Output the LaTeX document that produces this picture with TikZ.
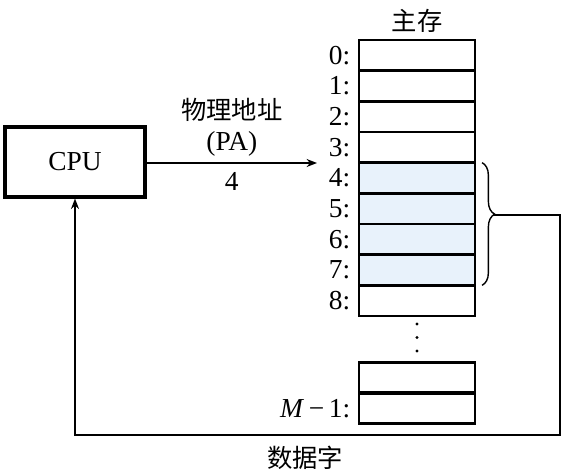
\documentclass[tikz,border=0pt]{standalone}
\usepackage{fontspec}
\setmainfont{Liberation Serif}
\newfontfamily\cjk{Noto Sans CJK SC}
\usepackage{xcolor}
\definecolor{cellblue}{HTML}{E8F2FB}
\usetikzlibrary{arrows.meta, positioning, decorations.pathreplacing, calc}

\begin{document}
\begin{tikzpicture}[
    x=0.025cm, y=-0.025cm,
    every node/.style={font=\fontsize{19.5}{22}\selectfont},
    cpubox/.style={draw, line width=2.2pt, minimum width=3.5cm, minimum height=1.75cm},
    cell/.style={draw, line width=2pt, minimum width=2.9cm, minimum height=0.767cm, inner sep=0pt, outer sep=0pt},
    hicell/.style={cell, fill=cellblue},
    addr/.style={inner sep=0pt},
    cjklabel/.style={font=\cjk\fontsize{18}{21}\selectfont},
    arr/.style={-{Stealth[length=2.6mm, width=2mm]}, line width=0.9pt},
    retline/.style={-{Stealth[length=2.6mm, width=2mm]}, line width=1.3pt},
    membrace/.style={decorate, decoration={brace, amplitude=9pt, aspect=0.42}, line width=1pt},
]
\useasboundingbox (0,0) rectangle (564,475);

% ---- CPU ----
\node[cpubox] (cpu) at (75,162) {CPU};

% ---- main memory ----
\foreach \i in {0,1,2,3,8}
  \node[cell] (m\i) at (417,{55.3+30.67*\i}) {};
\foreach \i in {4,...,7}
  \node[hicell] (m\i) at (417,{55.3+30.67*\i}) {};
\foreach \i in {0,...,8}
  \node[addr, left=6pt of m\i.west] {\i:};

\node[cjklabel, above=2pt of m0.north] (mem) {主存};

% gap in the cells
\foreach \y in {324,337.5,351}
  \fill (417,\y) circle (1.6);
\node[cell] (mA) at (417,377.5) {};
\node[cell] (mB) at (417,408.5) {};
\node[addr, left=6pt of mB.west] {\textit{M}\,−\,1:};

% ---- physical address ----
\coordinate (paend) at (317,163);
\draw[arr] (cpu.east |- paend) -- node[above=1pt] (pa) {(PA)} node[below=3pt] (four) {4} (paend);
\node[cjklabel, above=0pt of pa] (paname) {物理地址};

% ---- data word back to CPU ----
\draw[membrace] ([xshift=5]m4.north east) -- ([xshift=5]m7.south east);
\coordinate (tip) at (493,215);
\coordinate (ret) at (560,435);
\draw[retline] (tip) -| (ret) -| (cpu.south);
\node[cjklabel] (data) at (305,458) {数据字};

\end{tikzpicture}
\end{document}
